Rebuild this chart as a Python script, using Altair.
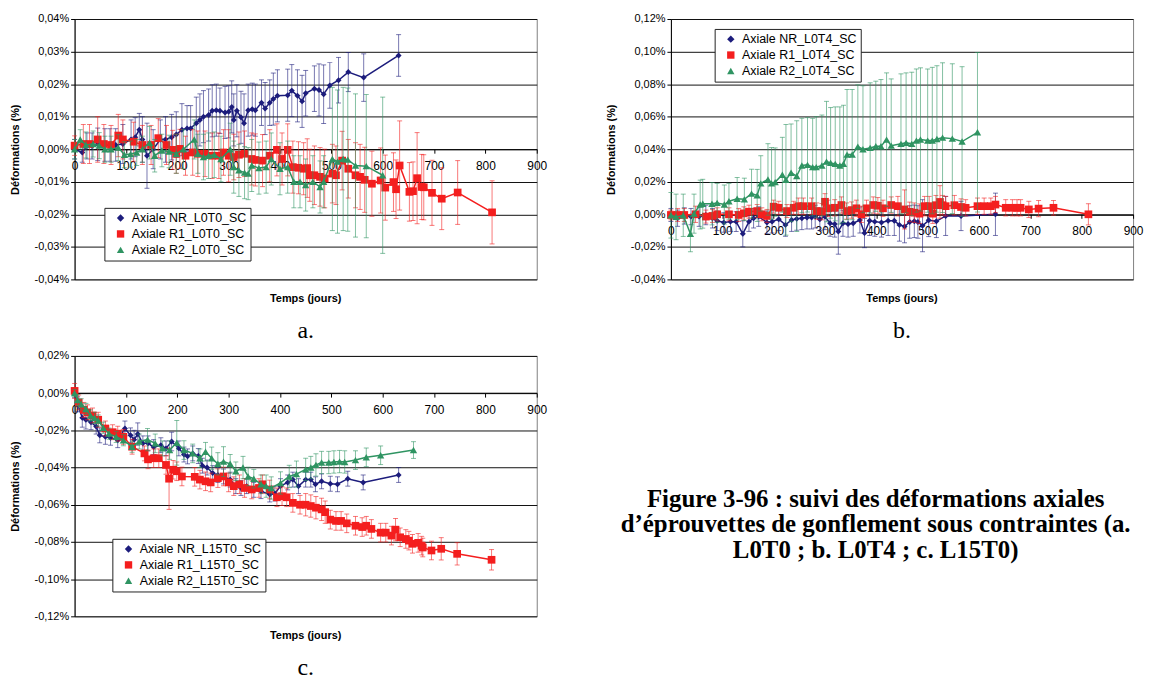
import altair as alt
import pandas as pd

# ---------------- data (values in %) ----------------
NAMES_A = ["Axiale NR_L0T0_SC", "Axiale R1_L0T0_SC", "Axiale R2_L0T0_SC"]
NAMES_B = ["Axiale NR_L0T4_SC", "Axiale R1_L0T4_SC", "Axiale R2_L0T4_SC"]
NAMES_C = ["Axiale NR_L15T0_SC", "Axiale R1_L15T0_SC", "Axiale R2_L15T0_SC"]

# Panel a
NR_A_DAYS = [0, 15, 24, 34, 45, 59, 69, 80, 94, 110, 118, 126, 132, 141, 153, 167, 177, 189, 198, 209,
             219, 226, 237, 244, 251, 261, 268, 276, 283, 293, 300, 306, 310, 316, 324, 330, 338, 346, 352, 364,
             371, 380, 387, 395, 415, 423, 434, 443, 450, 467, 476, 485, 497, 514, 533, 563, 631]
NR_A_VAL = [0.0, -0.001, 0.001, 0.001, 0.0015, 0.0013, 0.0013, 0.0013, 0.0016, 0.003,
            0.0037, 0.006, 0.003, -0.002, 0.0, 0.003, 0.003, 0.0037, 0.0045, 0.006,
            0.0064, 0.0064, 0.008, 0.009, 0.010, 0.0105, 0.0118, 0.012, 0.0118, 0.0113,
            0.0115, 0.013, 0.009, 0.0118, 0.0098, 0.008, 0.012, 0.0123, 0.012, 0.0143,
            0.0125, 0.0143, 0.0154, 0.0164, 0.0166, 0.018, 0.0164, 0.0147, 0.0172, 0.0186,
            0.0182, 0.0169, 0.0196, 0.0212, 0.0237, 0.022, 0.0288]
NR_A_ERR = [0.003, 0.003, 0.004, 0.004, 0.005, 0.005, 0.005, 0.005, 0.006, 0.006,
            0.006, 0.005, 0.007, 0.010, 0.006, 0.006, 0.007, 0.007, 0.007, 0.008,
            0.007, 0.007, 0.008, 0.008, 0.008, 0.008, 0.008, 0.008, 0.007, 0.008,
            0.008, 0.008, 0.008, 0.008, 0.008, 0.009, 0.008, 0.008, 0.008, 0.007,
            0.008, 0.007, 0.008, 0.008, 0.008, 0.008, 0.008, 0.008, 0.007, 0.007,
            0.008, 0.009, 0.007, 0.007, 0.006, 0.0073, 0.0064]

R1_A_DAYS = [0, 17, 29, 45, 57, 71, 85, 94, 115, 132, 149, 163, 179, 191, 198, 205, 216, 230, 240, 254,
             268, 281, 290, 300, 310, 320, 331, 345, 352, 366, 380, 394, 404, 415, 425, 436, 446, 453, 458, 467,
             478, 487, 502, 509, 521, 533, 547, 556, 565, 579, 596, 605, 621, 626, 633, 652, 659, 667, 676, 680,
             696, 715, 746, 813]
R1_A_VAL = [0.0011, 0.0016, 0.0016, 0.003, 0.0016, 0.0013, 0.0042, 0.003, 0.0023, 0.0013,
            0.0013, 0.0034, 0.0013, -0.0002, -0.0014, 0.0001, -0.002, -0.001, -0.0014, -0.0014,
            -0.002, -0.002, -0.001, -0.002, -0.0024, -0.0017, -0.0014, -0.003, -0.0033, -0.0035,
            -0.002, -0.0002, -0.003, -0.0002, -0.0055, -0.0057, -0.006, -0.0058, -0.008, -0.008,
            -0.0085, -0.009, -0.0075, -0.008, -0.0035, -0.006, -0.008, -0.0085, -0.0094, -0.0106,
            -0.0096, -0.0118, -0.0101, -0.0123, -0.005, -0.0131, -0.0129, -0.0089, -0.0116, -0.0117,
            -0.0134, -0.0152, -0.0133, -0.0194]
R1_A_ERR = [0.003, 0.006, 0.006, 0.007, 0.006, 0.006, 0.0065, 0.006, 0.006, 0.006,
            0.006, 0.006, 0.006, 0.006, 0.006, 0.006, 0.006, 0.007, 0.007, 0.007,
            0.007, 0.007, 0.007, 0.008, 0.007, 0.007, 0.007, 0.008, 0.008, 0.008,
            0.008, 0.008, 0.008, 0.008, 0.008, 0.008, 0.008, 0.009, 0.008, 0.009,
            0.009, 0.009, 0.009, 0.009, 0.009, 0.009, 0.010, 0.010, 0.010, 0.010,
            0.010, 0.010, 0.009, 0.009, 0.0137, 0.009, 0.009, 0.014, 0.010, 0.010,
            0.010, 0.0095, 0.0098, 0.0097]

R2_A_DAYS = [0, 11, 22, 36, 48, 59, 71, 85, 97, 109, 121, 132, 146, 156, 170, 184, 198, 212, 233, 240,
             251, 261, 272, 285, 303, 310, 320, 331, 338, 345, 359, 373, 383, 400, 415, 427, 439, 450, 464, 478,
             485, 502, 512, 523, 532, 547, 568, 600]
R2_A_VAL = [0.0, 0.003, 0.0013, 0.0016, 0.0011, 0.0, 0.0, 0.0005, -0.0017, -0.0015,
            -0.001, 0.0, 0.002, -0.002, -0.0004, -0.0007, -0.0014, 0.0, 0.003, -0.0014,
            -0.0024, -0.002, -0.0017, -0.003, 0.0, -0.0055, -0.0065, -0.0072, -0.0075, -0.005,
            -0.0058, -0.0055, -0.003, -0.006, -0.0055, -0.010, -0.010, -0.011, -0.010, -0.0116,
            -0.010, -0.003, -0.0038, -0.003, -0.0032, -0.005, -0.0052, -0.008]
R2_A_ERR = [0.003, 0.003, 0.004, 0.004, 0.004, 0.004, 0.004, 0.004, 0.004, 0.004,
            0.004, 0.004, 0.005, 0.005, 0.005, 0.005, 0.006, 0.006, 0.006, 0.006,
            0.007, 0.007, 0.007, 0.007, 0.008, 0.008, 0.008, 0.008, 0.008, 0.008,
            0.008, 0.008, 0.008, 0.008, 0.008, 0.008, 0.008, 0.008, 0.008, 0.008,
            0.008, 0.022, 0.022, 0.022, 0.022, 0.022, 0.022, 0.024]

# Panel b
NR_B_DAYS = [0, 13, 26, 39, 55, 68, 81, 90, 103, 116, 127, 140, 152, 161, 171, 187, 197, 210, 223, 235,
             245, 255, 265, 274, 281, 290, 300, 310, 319, 326, 335, 345, 355, 368, 377, 387, 397, 410, 423, 435,
             445, 455, 465, 474, 481, 490, 502, 517, 535, 565, 632]
NR_B_VAL = [-0.0004, -0.0024, -0.001, -0.0014, -0.0014, -0.0004, -0.0024, -0.004, -0.005, -0.0045,
            -0.0045, -0.012, -0.0045, -0.0024, -0.0014, -0.005, -0.0045, -0.003, -0.0065, -0.0035,
            -0.0028, -0.0024, -0.002, -0.002, -0.0014, -0.003, -0.0014, -0.0055, -0.006, -0.0105,
            -0.0055, -0.006, -0.0055, -0.0035, -0.0115, -0.004, -0.0045, -0.005, -0.004, -0.004,
            -0.0065, -0.0075, -0.0047, -0.0043, -0.0047, -0.007, -0.0037, -0.0043, -0.001, -0.001,
            0.0]
NR_B_ERR = [0.004, 0.005, 0.005, 0.005, 0.006, 0.006, 0.006, 0.006, 0.006, 0.006,
            0.006, 0.008, 0.006, 0.006, 0.006, 0.007, 0.007, 0.007, 0.007, 0.007,
            0.007, 0.007, 0.007, 0.007, 0.007, 0.007, 0.008, 0.008, 0.008, 0.014,
            0.008, 0.008, 0.008, 0.008, 0.009, 0.009, 0.009, 0.009, 0.009, 0.009,
            0.010, 0.010, 0.010, 0.010, 0.010, 0.016, 0.010, 0.010, 0.012, 0.009,
            0.013]

R1_B_DAYS = [0, 13, 26, 48, 68, 81, 90, 113, 132, 142, 152, 168, 177, 187, 200, 210, 226, 239, 248, 258,
             274, 284, 294, 300, 306, 319, 332, 342, 352, 361, 371, 381, 394, 403, 413, 429, 442, 455, 465, 474,
             484, 494, 503, 510, 516, 524, 529, 535, 552, 565, 574, 597, 610, 623, 632, 652, 665, 674, 681, 697,
             716, 745, 813]
R1_B_VAL = [-0.0004, -0.0004, -0.0004, 0.0, -0.0014, -0.001, 0.0, 0.0, -0.0004, 0.0006,
            0.0016, 0.002, 0.0, -0.001, 0.0047, 0.004, 0.002, 0.004, 0.005, 0.005,
            0.005, 0.002, 0.0016, 0.0077, 0.0037, 0.004, 0.0057, 0.002, 0.0026, 0.0037,
            0.0, 0.0037, 0.0057, 0.0053, 0.0037, 0.0057, 0.005, 0.003, 0.0015, 0.001,
            0.0004, 0.005, 0.005, 0.0004, 0.0056, 0.0076, 0.0056, 0.005, 0.0056, 0.0045,
            0.004, 0.005, 0.005, 0.005, 0.006, 0.004, 0.004, 0.004, 0.004, 0.003,
            0.0035, 0.004, 0.0]
R1_B_ERR = [0.003, 0.004, 0.004, 0.005, 0.004, 0.004, 0.004, 0.004, 0.004, 0.004,
            0.004, 0.004, 0.004, 0.004, 0.004, 0.004, 0.004, 0.004, 0.005, 0.005,
            0.005, 0.005, 0.005, 0.005, 0.005, 0.005, 0.005, 0.005, 0.005, 0.005,
            0.005, 0.005, 0.005, 0.005, 0.005, 0.005, 0.006, 0.012, 0.006, 0.006,
            0.006, 0.006, 0.006, 0.006, 0.006, 0.010, 0.006, 0.006, 0.006, 0.005,
            0.005, 0.005, 0.005, 0.005, 0.005, 0.005, 0.005, 0.005, 0.005, 0.005,
            0.005, 0.0045, 0.0065]

R2_B_DAYS = [0, 10, 24, 38, 45, 57, 62, 80, 90, 104, 113, 129, 143, 157, 168, 175, 189, 196, 203, 217,
             224, 234, 245, 255, 266, 276, 283, 294, 303, 311, 320, 329, 336, 343, 353, 364, 374, 388, 399, 409,
             420, 429, 448, 458, 469, 478, 486, 500, 509, 518, 529, 548, 567, 597]
R2_B_VAL = [-0.0006, -0.0016, -0.0006, -0.012, 0.0004, 0.006, 0.0065, 0.0065, 0.007, 0.006,
            0.008, 0.0096, 0.0092, 0.0127, 0.0116, 0.019, 0.0214, 0.019, 0.0198, 0.0243,
            0.0212, 0.0255, 0.0235, 0.030, 0.0304, 0.029, 0.029, 0.030, 0.0324, 0.0316,
            0.031, 0.030, 0.031, 0.0367, 0.0367, 0.0416, 0.040, 0.0408, 0.0418, 0.0418,
            0.0459, 0.0422, 0.0433, 0.0439, 0.0433, 0.0453, 0.046, 0.0453, 0.0453, 0.0463,
            0.0471, 0.0465, 0.0447, 0.0504]
R2_B_ERR = [0.014, 0.014, 0.013, 0.011, 0.012, 0.015, 0.015, 0.013, 0.012, 0.012,
            0.011, 0.013, 0.013, 0.015, 0.016, 0.017, 0.022, 0.022, 0.021, 0.023,
            0.034, 0.030, 0.034, 0.029, 0.029, 0.030, 0.031, 0.031, 0.037, 0.034,
            0.035, 0.036, 0.036, 0.040, 0.040, 0.038, 0.039, 0.040, 0.040, 0.041,
            0.041, 0.041, 0.043, 0.043, 0.044, 0.044, 0.044, 0.044, 0.045, 0.045,
            0.046, 0.046, 0.046, 0.049]

# Panel c
NR_C_DAYS = [0, 6, 15, 22, 32, 42, 49, 60, 70, 84, 98, 109, 116, 123, 133, 143, 154, 168, 178, 189,
             203, 213, 220, 230, 241, 249, 258, 269, 279, 290, 303, 314, 324, 335, 349, 363, 380, 390, 401, 415,
             425, 436, 450, 460, 469, 481, 498, 512, 532, 562, 631]
NR_C_VAL = [-0.0005, -0.006, -0.0133, -0.0143, -0.0156, -0.018, -0.0227, -0.0235, -0.024, -0.0253,
            -0.019, -0.0227, -0.025, -0.022, -0.027, -0.027, -0.029, -0.028, -0.0297, -0.026,
            -0.0297, -0.033, -0.034, -0.0324, -0.0338, -0.039, -0.040, -0.043, -0.044, -0.0448,
            -0.0465, -0.050, -0.051, -0.050, -0.052, -0.0527, -0.0545, -0.054, -0.050, -0.048,
            -0.0465, -0.050, -0.0465, -0.0465, -0.049, -0.0474, -0.0487, -0.049, -0.046, -0.048,
            -0.044]
NR_C_ERR = [0.002, 0.004, 0.005, 0.005, 0.004, 0.004, 0.004, 0.004, 0.004, 0.004,
            0.004, 0.004, 0.005, 0.006, 0.004, 0.004, 0.004, 0.004, 0.004, 0.005,
            0.004, 0.004, 0.004, 0.004, 0.004, 0.004, 0.004, 0.004, 0.004, 0.004,
            0.004, 0.004, 0.004, 0.004, 0.004, 0.004, 0.004, 0.004, 0.004, 0.004,
            0.004, 0.004, 0.004, 0.004, 0.004, 0.004, 0.004, 0.004, 0.004, 0.004,
            0.004]

R1_C_DAYS = [0, 8, 18, 25, 35, 46, 60, 74, 84, 95, 112, 136, 143, 154, 164, 178, 184, 192, 199, 209,
             234, 244, 255, 265, 279, 290, 300, 310, 321, 331, 345, 359, 366, 380, 394, 404, 413, 425, 439, 450,
             460, 470, 481, 488, 498, 509, 519, 530, 547, 560, 568, 578, 596, 606, 617, 625, 634, 645, 651, 658,
             669, 676, 678, 695, 714, 745, 812]
R1_C_VAL = [0.0012, -0.005, -0.009, -0.0103, -0.012, -0.0143, -0.019, -0.021, -0.0218, -0.0235,
            -0.0288, -0.0324, -0.0356, -0.035, -0.035, -0.0386, -0.046, -0.0412, -0.042, -0.0448,
            -0.045, -0.0465, -0.0474, -0.048, -0.0457, -0.0448, -0.048, -0.050, -0.049, -0.051,
            -0.0518, -0.051, -0.049, -0.0518, -0.056, -0.0554, -0.056, -0.059, -0.060, -0.060,
            -0.0607, -0.0616, -0.0625, -0.064, -0.068, -0.0687, -0.0687, -0.070, -0.0713, -0.072,
            -0.0713, -0.073, -0.075, -0.075, -0.0766, -0.0734, -0.0775, -0.0784, -0.0793, -0.081,
            -0.0805, -0.082, -0.083, -0.0846, -0.0837, -0.0864, -0.0896]
R1_C_ERR = [0.004, 0.004, 0.004, 0.004, 0.004, 0.004, 0.004, 0.004, 0.004, 0.004,
            0.004, 0.004, 0.005, 0.005, 0.005, 0.005, 0.0165, 0.005, 0.005, 0.005,
            0.005, 0.005, 0.005, 0.005, 0.005, 0.005, 0.005, 0.005, 0.005, 0.005,
            0.005, 0.005, 0.005, 0.005, 0.005, 0.005, 0.005, 0.005, 0.005, 0.006,
            0.006, 0.006, 0.006, 0.006, 0.005, 0.005, 0.005, 0.005, 0.005, 0.005,
            0.005, 0.005, 0.005, 0.005, 0.005, 0.006, 0.005, 0.005, 0.005, 0.005,
            0.005, 0.005, 0.005, 0.005, 0.006, 0.006, 0.0055]

R2_C_DAYS = [0, 6, 13, 22, 31, 39, 46, 56, 67, 81, 95, 112, 126, 142, 157, 171, 185, 199, 213, 230,
             244, 255, 267, 279, 290, 303, 314, 328, 338, 349, 363, 373, 383, 401, 418, 432, 450, 460, 470, 481,
             495, 505, 516, 526, 547, 568, 596, 660]
R2_C_VAL = [0.0, -0.0037, -0.006, -0.0085, -0.012, -0.0133, -0.0147, -0.0186, -0.0218, -0.0235,
            -0.0253, -0.0288, -0.026, -0.025, -0.027, -0.0297, -0.0306, -0.0267, -0.0306, -0.0324,
            -0.035, -0.0315, -0.035, -0.038, -0.0368, -0.038, -0.042, -0.040, -0.0448, -0.046,
            -0.049, -0.050, -0.051, -0.0483, -0.0448, -0.0435, -0.041, -0.040, -0.0386, -0.0373,
            -0.0373, -0.037, -0.0368, -0.037, -0.036, -0.0345, -0.0334, -0.0306]
R2_C_ERR = [0.002, 0.003, 0.003, 0.003, 0.003, 0.003, 0.003, 0.003, 0.003, 0.003,
            0.003, 0.003, 0.004, 0.006, 0.005, 0.004, 0.005, 0.012, 0.005, 0.005,
            0.005, 0.005, 0.006, 0.006, 0.008, 0.005, 0.005, 0.006, 0.005, 0.005,
            0.005, 0.006, 0.006, 0.006, 0.006, 0.007, 0.006, 0.006, 0.006, 0.006,
            0.006, 0.006, 0.006, 0.006, 0.005, 0.005, 0.005, 0.0045]

X_TICKS = [0, 100, 200, 300, 400, 500, 600, 700, 800, 900]
Y_TICKS_A = [-0.04, -0.03, -0.02, -0.01, 0.0, 0.01, 0.02, 0.03, 0.04]
Y_TICKS_B = [-0.04, -0.02, 0.0, 0.02, 0.04, 0.06, 0.08, 0.10, 0.12]
Y_TICKS_C = [-0.12, -0.10, -0.08, -0.06, -0.04, -0.02, 0.0, 0.02]

CAPTION = ["Figure 3-96 : suivi des déformations axiales",
           "d\u2019éprouvettes de gonflement sous contraintes (a.",
           "L0T0 ; b. L0T4 ; c. L15T0)"]

COLORS = ["#1c1c7c", "#f41e1e", "#2f9462"]
SHAPES = ["diamond", "square", "triangle-up"]
SIZES = [36, 60, 55]

SANS = "Liberation Sans"
SERIF = "Liberation Serif"
PW, PH = 465, 262


def series_df(name, days, vals, errs):
    assert len(days) == len(vals) == len(errs), name
    return pd.DataFrame({
        "series": name, "day": days, "val": vals,
        "lo": [v - e for v, e in zip(vals, errs)],
        "hi": [v + e for v, e in zip(vals, errs)],
    })


def panel(names, dat, ymin, ymax, yticks, letter, lx, ly):
    df = pd.concat([series_df(n, *d) for n, d in zip(names, dat)], ignore_index=True)
    off = PH * (0 - ymin) / (ymax - ymin)
    xax = alt.Axis(values=X_TICKS, format="d", title=None, grid=False, offset=-off,
                   domainColor="#000", tickColor="#000", tickSize=4, labelFontSize=12,
                   labelPadding=7, labelColor="#000", labelFont=SANS, labelFlush=False,
                   labelOverlap=False)
    yax = alt.Axis(values=yticks, title="Déformations (%)", grid=True, gridColor="#111",
                   gridWidth=1, domainColor="#000", tickColor="#000", tickSize=4,
                   labelFontSize=11, labelColor="#000", labelFont=SANS, labelPadding=2,
                   labelExpr="(datum.value < -0.00001 ? '-' : '') + replace(format(abs(datum.value), '.2f'), '.', ',') + '%'",
                   titleFont=SANS, titleFontSize=11, titleFontWeight="bold", titleColor="#000",
                   titlePadding=14)
    xs = alt.Scale(domain=[0, 900], nice=False, zero=False)
    ys = alt.Scale(domain=[ymin, ymax], nice=False, zero=False)
    cscale = alt.Scale(domain=names, range=COLORS)
    sscale = alt.Scale(domain=names, range=SHAPES)
    X = alt.X("day:Q", scale=xs, axis=xax)
    leg = alt.Legend(orient="none", legendX=lx, legendY=ly, title=None, fillColor="white",
                     strokeColor="#222", padding=4, labelFont=SANS, labelFontSize=12.5,
                     labelColor="#000", symbolSize=55, rowPadding=3, labelOffset=5,
                     symbolOffset=6, symbolStrokeWidth=0, symbolOpacity=1)
    col = alt.Color("series:N", scale=cscale, legend=leg)
    layers = []
    for i, n in enumerate(names):
        base = alt.Chart(df).transform_filter(alt.datum.series == n)
        layers.append(base.mark_rule(strokeWidth=1, opacity=0.6).encode(
            x=X, y=alt.Y("lo:Q", scale=ys, axis=yax), y2="hi:Q", color=col))
        for f in ["lo", "hi"]:
            layers.append(base.mark_tick(orient="horizontal", size=5, thickness=1, opacity=0.6).encode(
                x=X, y=alt.Y(f + ":Q", scale=ys, axis=yax), color=col))
        layers.append(base.mark_line(strokeWidth=1.5).encode(
            x=X, y=alt.Y("val:Q", scale=ys, axis=yax), color=col))
        layers.append(base.mark_point(filled=True, opacity=1, size=SIZES[i]).encode(
            x=X, y=alt.Y("val:Q", scale=ys, axis=yax), color=col,
            shape=alt.Shape("series:N", scale=sscale, legend=leg)))
    return alt.layer(*layers).properties(
        width=PW, height=PH,
        title=alt.TitleParams(text="Temps (jours)", subtitle=letter, orient="bottom",
                              anchor="middle", font=SANS, fontSize=11, fontWeight="bold",
                              color="#000", offset=9, subtitleFont=SERIF, subtitleFontSize=24,
                              subtitleColor="#000", subtitlePadding=15))


pa = panel(NAMES_A, [(NR_A_DAYS, NR_A_VAL, NR_A_ERR), (R1_A_DAYS, R1_A_VAL, R1_A_ERR),
                     (R2_A_DAYS, R2_A_VAL, R2_A_ERR)], -0.04, 0.04, Y_TICKS_A, "a.", 30, 190)
pb = panel(NAMES_B, [(NR_B_DAYS, NR_B_VAL, NR_B_ERR), (R1_B_DAYS, R1_B_VAL, R1_B_ERR),
                     (R2_B_DAYS, R2_B_VAL, R2_B_ERR)], -0.04, 0.12, Y_TICKS_B, "b.", 44, 10)
pc = panel(NAMES_C, [(NR_C_DAYS, NR_C_VAL, NR_C_ERR), (R1_C_DAYS, R1_C_VAL, R1_C_ERR),
                     (R2_C_DAYS, R2_C_VAL, R2_C_ERR)], -0.12, 0.02, Y_TICKS_C, "c.", 38, 184)

cap_layers = []
for i, line in enumerate(CAPTION):
    cap_layers.append(alt.Chart(pd.DataFrame({"t": [line]})).mark_text(
        font=SERIF, fontSize=25, fontWeight="bold", color="#000", align="center",
        baseline="middle", clip=True).encode(
        text="t:N", x=alt.value(320), y=alt.value(144 + 25.5 * i)))
caption = alt.layer(*cap_layers).properties(width=584, height=PH,
                                            view=alt.ViewBackground(stroke="transparent"))

RES = dict(x="independent", y="independent", color="independent", shape="independent")
top = alt.hconcat(pa, pb, spacing=57).resolve_scale(**RES).resolve_legend(
    color="independent", shape="independent")
bottom = alt.hconcat(pc, caption, spacing=9).resolve_scale(**RES).resolve_legend(
    color="independent", shape="independent")
chart = alt.vconcat(top, bottom, spacing=5).resolve_scale(**RES).resolve_legend(
    color="independent", shape="independent").properties(
    padding={"left": 0, "top": 2, "right": 0, "bottom": 0},
    background="white").configure_view(stroke="#808080")

chart.save("out.html", embed_options={"renderer": "svg", "actions": False})
